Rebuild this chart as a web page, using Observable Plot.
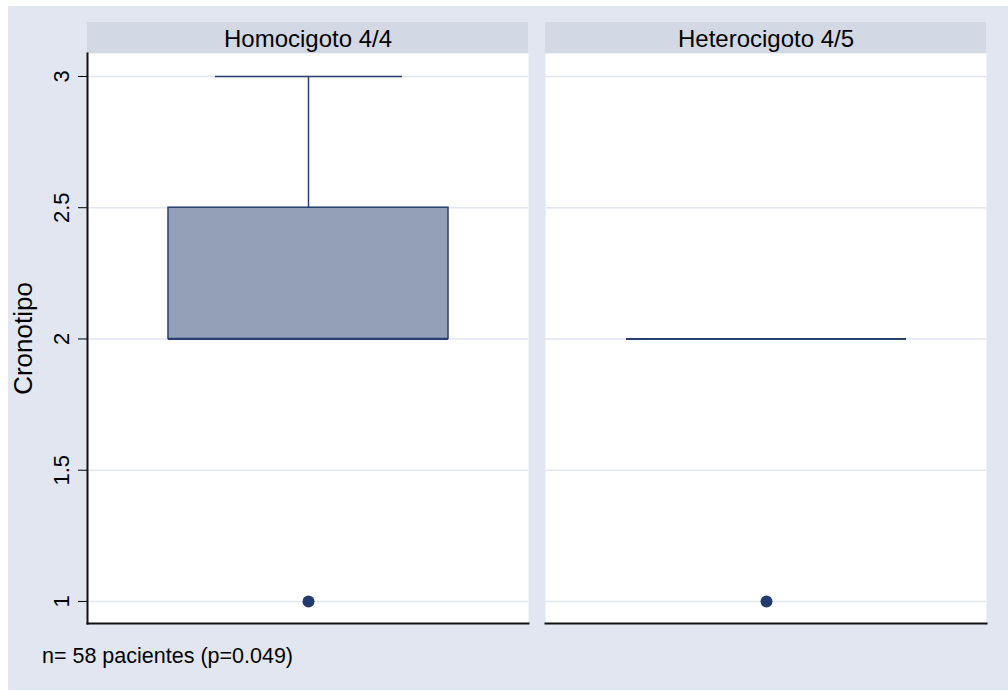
<!DOCTYPE html>
<html>
<head>
<meta charset="utf-8">
<script src="https://cdn.jsdelivr.net/npm/d3@7"></script>
<script src="https://cdn.jsdelivr.net/npm/@observablehq/plot@0.6"></script>
<style>
  html, body { margin: 0; padding: 0; background: #ffffff; }
  #region {
    position: absolute; left: 8px; top: 6px; width: 1000px; height: 684px;
    background: #e1e6f0; font-family: "Liberation Sans", Arial, sans-serif;
  }
  #chart svg { display: block; }
  #caption {
    position: absolute; left: 34px; top: 638px;
    font-size: 21.5px; color: #000;
  }
</style>
</head>
<body>
<div id="region">
  <div id="chart"></div>
  <div id="caption">n= 58 pacientes (p=0.049)</div>
</div>
<script>
// ---- data ----
const groups = ["Homocigoto 4/4", "Heterocigoto 4/5"];
const variable = "Cronotipo";
const lowerAdjacent = [2, 2];
const q1Values = [2, 2];
const medianValues = [2, 2];
const q3Values = [2.5, 2];
const upperAdjacent = [3, 2];
const outlierGroups = ["Homocigoto 4/4", "Heterocigoto 4/5"];
const outlierValues = [1, 1];
const yTicks = [1, 1.5, 2, 2.5, 3];
const yTickLabels = ["1", "1.5", "2", "2.5", "3"];

const boxes = groups.map((g, i) => ({
  group: g, variable,
  lo: lowerAdjacent[i], q1: q1Values[i], median: medianValues[i],
  q3: q3Values[i], hi: upperAdjacent[i]
}));
const outliers = outlierGroups.map((g, i) => ({group: g, variable, value: outlierValues[i]}));

const navy = "#27406f";
const boxFill = "#94a0b7";

const chart = Plot.plot({
  width: 1000,
  height: 630,
  marginLeft: 79,
  marginRight: 21,
  marginTop: 47,
  marginBottom: 13,
  style: {background: "transparent", fontFamily: "'Liberation Sans', Arial, sans-serif", fontSize: "20px", color: "#000", overflow: "visible"},
  fx: {domain: groups, paddingInner: 0.037, paddingOuter: 0, axis: null},
  x: {domain: [variable], paddingInner: 0, paddingOuter: 0.285, axis: null},
  y: {domain: [0.916, 3.0875], axis: null},
  marks: [
    Plot.frame({fill: "white", stroke: "none"}),
    Plot.gridY(yTicks, {stroke: "#e2e6f0", strokeOpacity: 1, strokeWidth: 1.6}),
    Plot.axisFx({anchor: "top", tickSize: 0, tickPadding: 7, fontSize: 24, label: null}),
    Plot.axisY(yTicks, {anchor: "left", tickRotate: -90, tickSize: 9, tickPadding: 10, tickFormat: (d) => yTickLabels[yTicks.indexOf(d)], fontSize: 22, label: null, stroke: "#000"}),
    Plot.axisY({anchor: "left", ticks: [], tickSize: 0, label: "Cronotipo", labelAnchor: "center", labelArrow: "none", labelOffset: 74, fontSize: 26}),
    Plot.frame({anchor: "left", stroke: "#111", strokeWidth: 2, facetAnchor: "left"}),
    Plot.ruleX(boxes, {fx: "group", x: "variable", y1: "q3", y2: "hi", stroke: navy, strokeWidth: 1.5}),
    Plot.ruleX(boxes, {fx: "group", x: "variable", y1: "lo", y2: "q1", stroke: navy, strokeWidth: 1.5}),
    Plot.tickY(boxes, {fx: "group", x: "variable", y: "hi", stroke: navy, strokeWidth: 1.5, insetLeft: 47, insetRight: 46}),
    Plot.tickY(boxes, {fx: "group", x: "variable", y: "lo", stroke: navy, strokeWidth: 1.5, insetLeft: 47, insetRight: 46}),
    Plot.barY(boxes, {fx: "group", x: "variable", y1: "q1", y2: "q3", fill: boxFill, stroke: navy, strokeWidth: 1.5}),
    Plot.tickY(boxes, {fx: "group", x: "variable", y: "median", stroke: navy, strokeWidth: 2}),
    Plot.dot(outliers, {fx: "group", x: "variable", y: "value", r: 6, fill: "#213c6c", stroke: "none"}),
    Plot.frame({anchor: "bottom", stroke: "#111", strokeWidth: 2})
  ]
});

document.getElementById("chart").appendChild(chart);

// strip backgrounds behind the facet titles, positioned with the fx scale
const fx = chart.scale("fx");
const svg = d3.select(chart);
const strips = svg.insert("g", ":first-child").attr("class", "strips");
groups.forEach((g) => {
  strips.append("rect")
    .attr("x", fx.apply(g))
    .attr("y", 16)
    .attr("width", fx.bandwidth)
    .attr("height", 31)
    .attr("fill", "#d3d9e4");
});
</script>
</body>
</html>
